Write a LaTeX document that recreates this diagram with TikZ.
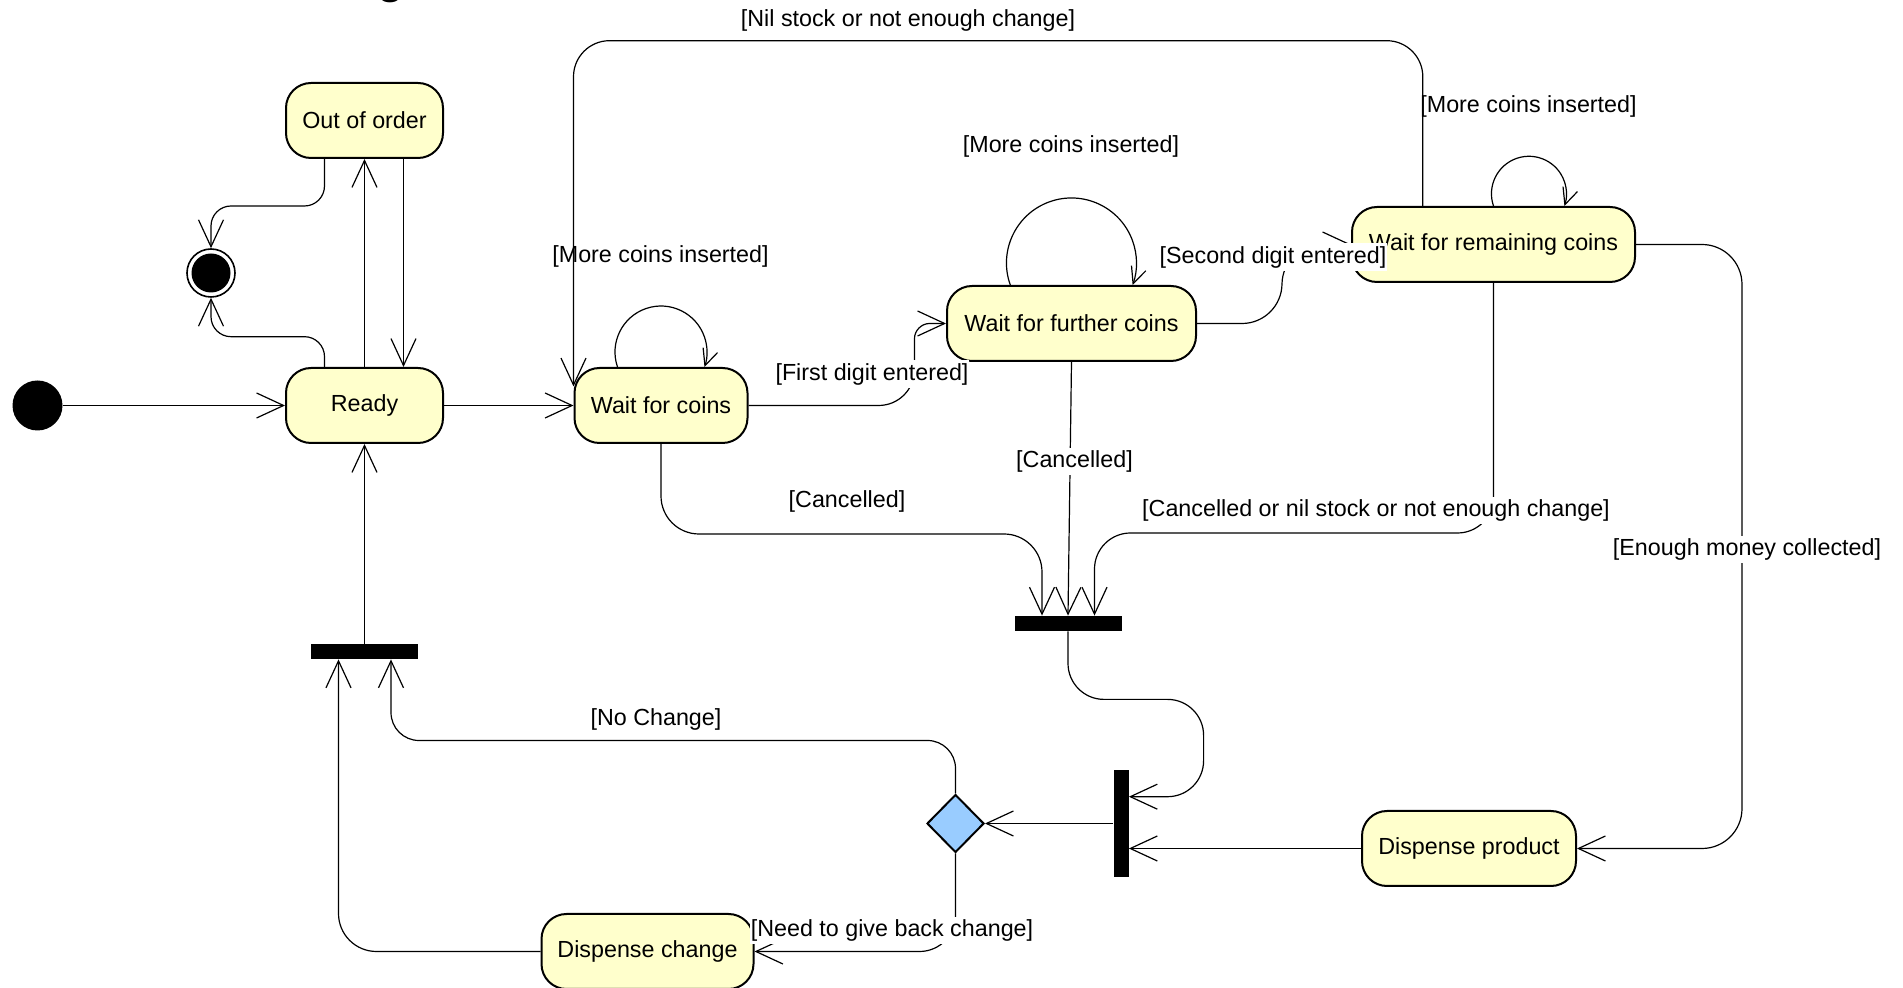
\documentclass[tikz,border=0pt]{standalone}
\usepackage{fontspec}
\setmainfont{Liberation Sans}
\usetikzlibrary{arrows.meta,shapes.geometric,calc}
\definecolor{statefill}{HTML}{FFFFCC}
\definecolor{choicefill}{HTML}{99CCFF}
\begin{document}
\begin{tikzpicture}[x=0.5pt,y=-0.5pt,
  every node/.style={font=\fontsize{11.65pt}{14pt}\selectfont},
  state/.style={draw, line width=1pt, fill=statefill, rounded corners=12.5pt,
    minimum height=37.5pt, inner sep=0pt},
  initial/.style={circle, fill=black, minimum size=25pt, inner sep=0pt},
  final/.style={circle, draw, line width=0.8pt, fill=white, minimum size=24pt, inner sep=0pt,
    path picture={\fill[black] (path picture bounding box.center) circle[radius=9.75pt];}},
  hbar/.style={fill=black, minimum width=53.5pt, minimum height=7.5pt, inner sep=0pt},
  vbar/.style={fill=black, minimum width=7.5pt, minimum height=53.5pt, inner sep=0pt},
  choice/.style={diamond, draw, line width=1pt, fill=choicefill, minimum width=28.5pt,
    minimum height=29pt, inner sep=0pt},
  arr/.style={line width=0.6pt, -{Straight Barb[length=13.5pt,width=12.5pt]}},
  looparr/.style={line width=0.6pt, -{Straight Barb[length=8.2pt,width=7.6pt]}},
  lbl/.style={inner xsep=0.5pt, inner ysep=1.5pt, text height=8.5pt, text depth=2.45pt},
  lblw/.style={lbl, fill=white},
]
\useasboundingbox (0,0) rectangle (1903,988);

% heading, only its descender lies inside the page
\node[font=\fontsize{22pt}{26pt}\selectfont\bfseries, anchor=base, inner sep=0pt] (ttl) at (391,-6) {g};

% states
\node[state, minimum width=78.5pt]  (ooo)   at (364.5,120.5) {Out of order};
\node[state, minimum width=78.5pt]  (ready) at (364.5,405.5) {Ready};
\node[state, minimum width=86.5pt]  (wfc)   at (661,405.5)   {Wait for coins};
\node[state, minimum width=124.5pt] (wffc)  at (1071.5,323.5) {Wait for further coins};
\node[state, minimum width=141.5pt] (wfrc)  at (1493.5,244.5) {Wait for remaining coins};
\node[state, minimum width=107pt]   (dp)    at (1469,848.5)  {Dispense product};
\node[state, minimum width=106pt]   (dc)    at (647.5,951.5) {Dispense change};

% pseudo states
\node[initial] (init) at (37.5,405.5) {};
\node[final]   (fin)  at (211,273) {};
\node[hbar]    (barL) at (364.5,651.5) {};
\node[hbar]    (barM) at (1068,623.5) {};
\node[vbar]    (barV) at (1121,823.5) {};
\node[choice]  (dia)  at (955.5,823.5) {};

% transitions
\draw[arr] (init) -- (ready);
\draw[arr] (ready) -- (ooo);
\draw[arr] ($(ooo.south)+(39,0)$) -- ($(ready.north)+(39,0)$);
\draw[arr, rounded corners=10pt] ($(ooo.south)+(-40,0)$) -- ++(0,47) -| (fin.north);
\draw[arr, rounded corners=10pt] ($(ready.north)+(-40,0)$) -- ++(0,-30.3) -| (fin.south);
\draw[arr] (ready) -- (wfc);

% self loops
\draw[looparr] ($(wfc.north)+(-43.5,0)$) arc[start angle=161, end angle=379, radius=46];
\draw[looparr] ($(wffc.north)+(-61.2,0)$) arc[start angle=160.2, end angle=379.8, radius=65];
\draw[looparr] (wfrc.north) arc[start angle=161, end angle=379, radius=37.5];

\draw[arr, rounded corners=18pt] ($(wfrc.north)+(-70.7,0)$) -- ++(0,-165.3) -| ($(wfc.west)+(0,-19)$);
\draw[arr] (wfc.east) -- ++(130,0) .. controls +(20,0) and +(0,20) .. ++(36,-36)
  -- ++(0,-31) .. controls +(0,-8) and +(-8,0) .. ++(15,-15) -- (wffc.west);
\draw[arr, rounded corners=20pt] (wffc.east) -- ++(85,0) |- (wfrc.west);
\draw[arr, rounded corners=19pt] (wfc.south) -- ++(0,90) -| ($(barM.north)+(-26,0)$);
\draw[arr] (wffc.south) -- (barM.north);
\draw[arr, rounded corners=18pt] (wfrc.south) -- ++(0,250) -| ($(barM.north)+(26.5,0)$);
\draw[arr, rounded corners=20pt] (wfrc.east) -- ++(106,0) |- (dp.east);
\draw[arr, rounded corners=18pt] (barM.south) -- ++(0,68) -- ++(135.6,0) |- ($(barV.east)+(0,-26.8)$);
\draw[arr] (dp.west) -- (dp.west -| barV.east);
\draw[arr] (barV.west) -- (dia.east);
\draw[arr, rounded corners=14pt] (dia.north) -- ++(0,-53) -| ($(barL.south)+(26.5,0)$);
\draw[arr, rounded corners=18pt] (dia.south) |- (dc.east);
\draw[arr, rounded corners=19pt] (dc.west) -| ($(barL.south)+(-26,0)$);
\draw[arr] (barL) -- (ready);

% guards
\node[lbl]  (l1)  at (908,20)      {[Nil stock or not enough change]};
\node[lbl]  (l2)  at (1528.5,106)  {[More coins inserted]};
\node[lbl]  (l3)  at (1071,146.5)  {[More coins inserted]};
\node[lbl]  (l4)  at (660.5,256.5) {[More coins inserted]};
\node[lblw] (l5)  at (1273,257)    {[Second digit entered]};
\node[lblw] (l6)  at (872,374)     {[First digit entered]};
\node[lblw] (l7)  at (1074.5,461.5) {[Cancelled]};
\node[lbl]  (l8)  at (847,501.5)   {[Cancelled]};
\node[lblw] (l9)  at (1376,510.5)  {[Cancelled or nil stock or not enough change]};
\node[lblw] (l10) at (1747,549.5)  {[Enough money collected]};
\node[lbl]  (l11) at (656,719.5)   {[No Change]};
\node[lblw] (l12) at (892,930.5)   {[Need to give back change]};
\end{tikzpicture}
\end{document}
